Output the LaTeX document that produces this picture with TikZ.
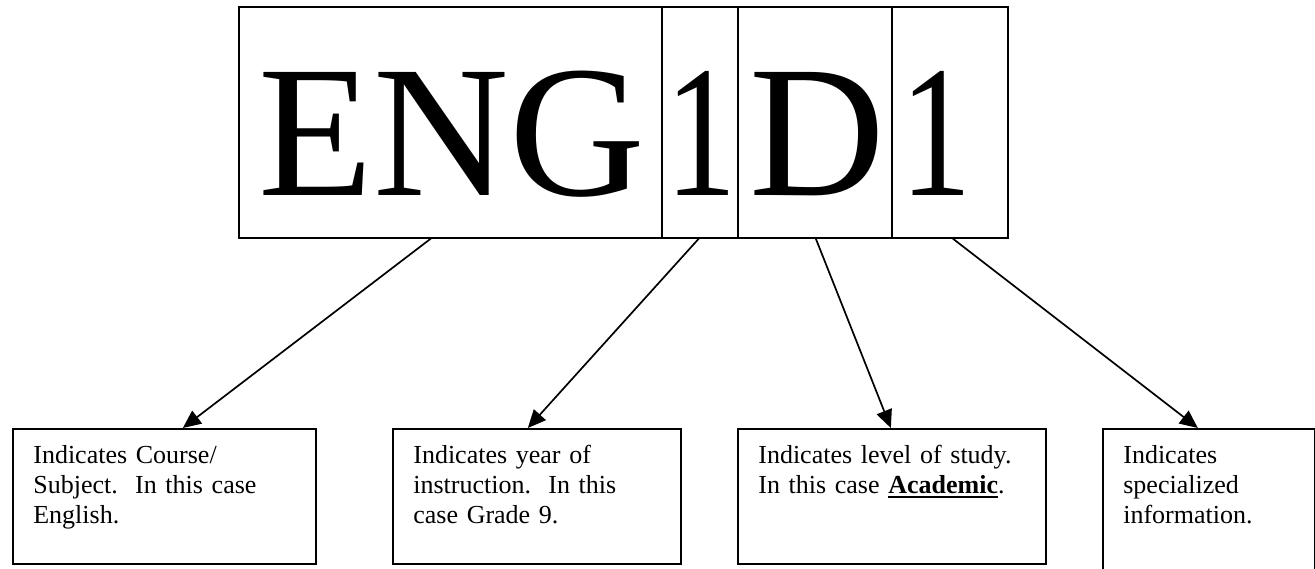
\documentclass[tikz,border=0pt]{standalone}
\usepackage{fontspec}
\setmainfont{Liberation Serif}
\usetikzlibrary{arrows.meta}
\newcommand{\thickul}[1]{\leavevmode\setbox0=\hbox{#1}\rlap{\rule[-4pt]{\wd0}{2.2pt}}\box0}
\begin{document}
\begin{tikzpicture}[x=1pt,y=-1pt,
  cell/.style={draw, line width=1.6pt, anchor=north west, inner sep=0pt, minimum height=231pt},
  big/.style={inner sep=0pt, font=\fontsize{188}{188}\selectfont},
  infobox/.style={draw, line width=1.7pt, anchor=north west, inner xsep=20.5pt, inner ysep=17pt,
    text height=18pt, text depth=83pt, align=left, font=\fontsize{26}{30}\selectfont},
  arr/.style={line width=1.7pt, -{Triangle[length=18pt,width=16pt]}}
]
\path[use as bounding box] (0,0) rectangle (1315,568);
\clip (0,0) rectangle (1315,568);

% top code cells
\node[cell, minimum width=423pt] (c1) at (238,6) {};
\node[cell, minimum width=76pt]  (c2) at (661,6) {};
\node[cell, minimum width=154pt] (c3) at (737,6) {};
\node[cell, minimum width=116pt] (c4) at (891,6) {};
\node[big, anchor=base west] (t1) at (258.5,195) {ENG};
\node[big, anchor=base] (t2) at (701,195) {\scalebox{0.76}[1]{1}};
\node[big, anchor=base west] (t3) at (749.5,195) {D};
\node[big, anchor=base] (t4) at (936,195) {\scalebox{0.76}[1]{1}};

% explanation boxes
\node[infobox, text width=262pt] (b1) at (12,428)
  {Indicates Course/\\Subject.\ \ In this case\\English.};
\node[infobox, text width=247pt] (b2) at (392,428)
  {Indicates year of\\instruction.\ \ In this\\case Grade 9.};
\node[infobox, text width=267pt] (b3) at (737,428)
  {Indicates level of study.\\In this case \thickul{\textbf{Academic}}.};
\node[infobox, text width=171pt, text depth=110pt] (b4) at (1102,428)
  {Indicates\\specialized\\information.};

% connectors
\draw[arr] ([xshift=-19.5pt]c1.south) -- ([xshift=18.5pt]b1.north);
\draw[arr] ([xshift=-1pt]c2.south) -- ([xshift=-9pt]b2.north);
\draw[arr] ([xshift=1pt]c3.south) -- ([xshift=-1pt]b3.north);
\draw[arr] ([xshift=3pt]c4.south) -- ([xshift=-11pt]b4.north);
\end{tikzpicture}
\end{document}
